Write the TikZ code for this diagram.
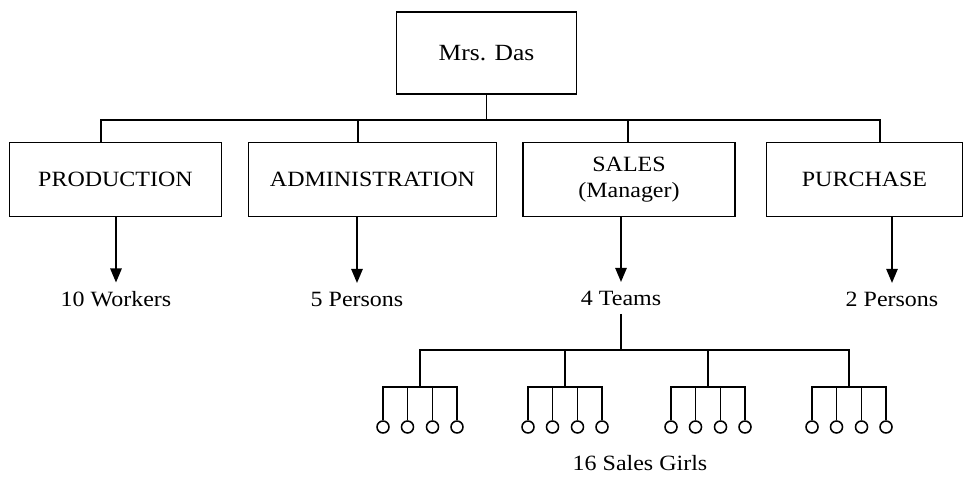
\documentclass[tikz,border=0pt]{standalone}
\usepackage{fontspec}
\setmainfont{Liberation Serif}[FakeStretch=1.1]
\usetikzlibrary{arrows.meta}

\tikzset{
  unit/.style={draw, line width=1.1pt, align=center, inner sep=2pt, font=\fontsize{15.5}{18}\selectfont},
  count/.style={inner sep=6pt, font=\fontsize{15.5}{18}\selectfont},
  girl/.style={draw, circle, line width=1.1pt, minimum size=0.3cm, inner sep=0pt},
  link/.style={line width=1.1pt},
  down/.style={line width=1.4pt, -{Triangle[length=10pt,width=8pt]}}
}

\begin{document}
\begin{tikzpicture}[x=0.025cm,y=-0.025cm]
\useasboundingbox (0,0) rectangle (965,477);
% head and departments
\node[unit, minimum width=4.5cm, minimum height=2.05cm, font=\fontsize{16.5}{19}\selectfont] (das) at (486.5,53) {Mrs. Das};
\node[unit, minimum width=5.3cm, minimum height=1.85cm] (prod) at (115.5,179.5) {PRODUCTION};
\node[unit, minimum width=6.2cm, minimum height=1.85cm] (adm) at (372.5,179.5) {ADMINISTRATION};
\node[unit, minimum width=5.3cm, minimum height=1.85cm] (sales) at (629,179.5) {SALES\\(Manager)};
\node[unit, minimum width=4.9cm, minimum height=1.85cm] (pur) at (864.5,179.5) {PURCHASE};
% bus
\coordinate (bus) at (486.5,120);
\coordinate (dprod) at (101,142);
\coordinate (dadm) at (358,142);
\coordinate (dsales) at (628,142);
\coordinate (dpur) at (880,142);
\draw[link] (das.south) -- (bus);
\foreach \d in {dprod,dadm,dsales,dpur}
  \draw[link] (bus) -| (\d);
% staff
\node[count] (wkr) at (116,299) {10 Workers};
\node[count] (per5) at (357,299) {5 Persons};
\node[count] (teams) at (621,298) {4 Teams};
\node[count] (per2) at (892,299) {2 Persons};
\draw[down] (prod.south -| wkr.north) -- (wkr.north);
\draw[down] (adm.south -| per5.north) -- (per5.north);
\draw[down] (sales.south -| teams.north) -- (teams.north);
\draw[down] (pur.south -| per2.north) -- (per2.north);
% teams of sales girls
\coordinate (hub) at (621,350);
\draw[link] (teams.south) -- (hub);
\foreach \c [count=\t] in {420,565,708,849} {
  \coordinate (t\t) at (\c,387);
  \draw[link] (hub) -| (t\t);
  \foreach \o [count=\i] in {-37,-12.5,12.5,37} {
    \node[girl] (g\t\i) at (\c+\o,427) {};
    \draw[link] (t\t) -| (g\t\i.north);
  }
}
\node[count, inner sep=1pt] (girls) at (640,463) {16 Sales Girls};
\end{tikzpicture}
\end{document}
